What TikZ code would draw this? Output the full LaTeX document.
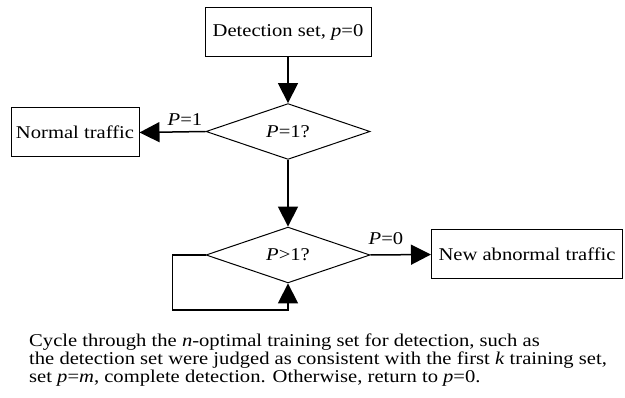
\documentclass[tikz,border=0pt]{standalone}
\usepackage{fontspec}
\setmainfont{Liberation Serif}[FakeStretch=1.145]
\usetikzlibrary{arrows.meta}
\usetikzlibrary{shapes.geometric}

\begin{document}
\begin{tikzpicture}[x=1pt, y=-1pt,
    FLOW/.style={rectangle, draw=black!100, fill=white!100, line width=1pt, minimum height=49pt, align=center, font=\fontsize{18}{18}\selectfont},
    TEST/.style={diamond, draw=black!100, fill=white!100, line width=1pt, inner sep=0pt, minimum width=164pt, minimum height=49pt, font=\fontsize{18}{18}\selectfont},
    ARR/.style={-{Triangle[length=20pt, width=20pt]}, line width=1.5pt},
    ]
        \useasboundingbox (0,0) rectangle (625,398);

        \node[FLOW, minimum width=166pt] (DET) at (288, 32.5) {Detection set, \textit{p}=0};
        \node[TEST] (Q1) at (288, 131.5) {\textit{P}=1?};
        \node[FLOW, minimum width=128pt, inner xsep=4pt] (NORM) at (75, 132.5) {Normal traffic};
        \node[FLOW, inner xsep=7pt, anchor=west] (NEW) at (431, 254.5) {New abnormal traffic};
        \node[TEST] (Q2) at (288, 255) {\textit{P}>1?};

        \draw[ARR] (DET.south) -- (Q1.north);
        \draw[ARR] (Q1.west) -- (NORM.east);
        \draw[ARR] (Q1.south) -- (Q2.north);
        \draw[ARR] (Q2.east) -- (NEW.west);
        \coordinate (L1) at (172.5, 255);
        \coordinate (L2) at (172.5, 310);
        \draw[ARR] (Q2.west) -- (L1) -- (L2) -| (Q2.south);

        \node[font=\fontsize{18}{18}\selectfont, inner sep=0pt] (LB1) at (185, 120) {\textit{P}=1};
        \node[font=\fontsize{18}{18}\selectfont, inner sep=0pt] (LB2) at (386, 239) {\textit{P}=0};

        \node[anchor=base west, align=left, inner sep=0pt, font=\fontsize{18}{18}\selectfont] (NOTE) at (29, 383)
            {Cycle through the \textit{n}-optimal training set for detection, such as\\
             the detection set were judged as consistent with the first \textit{k} training set,\\
             set \textit{p}=\textit{m}, complete detection. Otherwise, return to \textit{p}=0.};
    \end{tikzpicture}
\end{document}
